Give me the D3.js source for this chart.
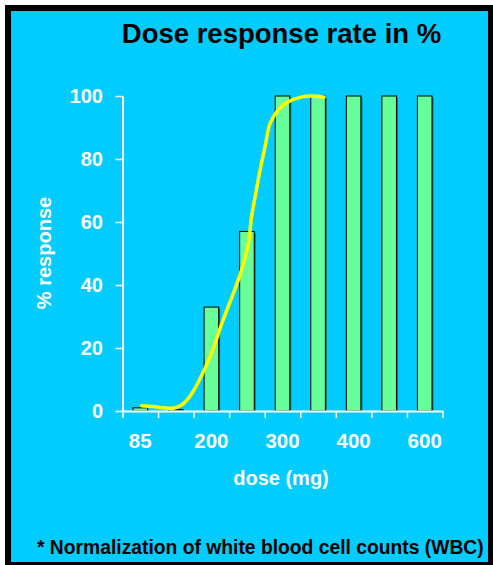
<!DOCTYPE html>
<html>
<head>
<meta charset="utf-8">
<script src="https://cdn.jsdelivr.net/npm/d3@7/dist/d3.min.js"></script>
<style>
  html, body { margin: 0; padding: 0; background: #fff; }
  svg { display: block; font-family: "Liberation Sans", Arial, sans-serif; font-weight: bold; }
</style>
</head>
<body>
<svg id="chart" width="493" height="565"></svg>
<script>
// 剂量类别 (只每隔一个标注) 与 柱高 (%)
const doses = ["85", "100", "200", "250", "300", "350", "400", "500", "600"];
const responses = [1, 0.5, 33, 57, 100, 100, 100, 100, 100];
const yTicks = [0, 20, 40, 60, 80, 100];
// 黄色拟合曲线: x 为类别序号(连续), y 为 %
const curveIdx = [0.04, 0.37, 0.65, 0.93, 1.16, 1.35, 1.45, 1.96, 2.33, 2.62, 2.85, 3.04, 3.13, 3.23, 3.37, 3.51, 3.65, 3.88, 4.12, 4.58, 4.87, 5.17];
const curveVal = [1.7, 1.4, 1.0, 0.9, 1.9, 4.0, 5.5, 17.2, 28.9, 37.4, 44.8, 53.2, 61.7, 68.0, 76.5, 83.9, 91.3, 95.6, 97.9, 99.8, 100, 99.6];

const svg = d3.select("#chart");
const COL = { BG: "#00ccff", BAR: "#66ff99", SHADOW: "#1d6f62", CURVE: "#ffff00" };

// 外框: 黑边 + 青色底
svg.append("rect").attr("x", 5).attr("y", 5).attr("width", 488).attr("height", 560).attr("fill", "#000");
svg.append("rect").attr("x", 11).attr("y", 11).attr("width", 477).attr("height", 551).attr("fill", COL.BG);

const L = 122.5, R = 442.5, T = 96, B = 411;
const x = d3.scaleBand().domain(doses).range([L, R]).padding(0);
const xi = d3.scaleLinear().domain([-0.5, doses.length - 0.5]).range([L, R]);
const y = d3.scaleLinear().domain([0, 100]).range([B, T]);
const bw = x.bandwidth() * 0.41;

// 柱 (带右下阴影)
const bars = svg.append("g");
bars.selectAll("rect.sh").data(responses).join("rect").attr("class", "sh")
  .attr("x", (d, i) => x(doses[i]) + (x.bandwidth() - bw) / 2 + 1.5).attr("y", (d) => y(d) + 1.5)
  .attr("width", bw).attr("height", (d) => B - y(d) - 1.5).attr("fill", COL.SHADOW);
bars.selectAll("rect.b").data(responses).join("rect").attr("class", "b")
  .attr("x", (d, i) => x(doses[i]) + (x.bandwidth() - bw) / 2).attr("y", (d) => y(d))
  .attr("width", bw).attr("height", (d) => B - y(d)).attr("fill", COL.BAR)
  .attr("stroke", "#000").attr("stroke-width", 1);

// y 轴
const gy = svg.append("g").attr("transform", `translate(${L},0)`)
  .call(d3.axisLeft(y).tickValues(yTicks).tickSize(7).tickPadding(12.5).tickSizeOuter(0));
gy.select(".domain").attr("stroke", "#fff").attr("stroke-width", 2);
gy.selectAll(".tick line").attr("stroke", "#fff").attr("stroke-width", 1.5);
gy.selectAll(".tick text").attr("fill", "#fff").attr("font-size", 20).attr("font-family", null).attr("font-weight", "bold");

// x 轴: 刻度在类别边界, 标签每隔一个
const gx = svg.append("g").attr("transform", `translate(0,${B})`)
  .call(d3.axisBottom(xi).tickValues(d3.range(-0.5, doses.length, 1)).tickSize(7).tickFormat("").tickSizeOuter(0));
gx.select(".domain").attr("stroke", "#fff").attr("stroke-width", 2);
gx.selectAll(".tick line").attr("stroke", "#fff").attr("stroke-width", 1.5);
const gxl = svg.append("g").attr("transform", `translate(0,${B})`)
  .call(d3.axisBottom(x).tickSize(0).tickPadding(22.5).tickFormat((d, i) => (i % 2 === 0 ? d : "")));
gxl.select(".domain").remove();
gxl.selectAll(".tick text").attr("fill", "#fff").attr("font-size", 20.5).attr("font-family", null).attr("font-weight", "bold");

// 黄色曲线
const pts = curveIdx.map((v, i) => [v, curveVal[i]]);
svg.append("path").datum(pts)
  .attr("d", d3.line().x((d) => xi(d[0])).y((d) => y(d[1])).curve(d3.curveCatmullRom.alpha(0.5)))
  .attr("fill", "none").attr("stroke", COL.CURVE).attr("stroke-width", 3.5)
  .attr("stroke-linecap", "round").attr("stroke-linejoin", "round");

// 文字
svg.append("text").attr("x", 281.5).attr("y", 42.5).attr("text-anchor", "middle")
  .attr("font-size", 27.5).attr("fill", "#000").text("Dose response rate in %");
svg.append("text").attr("x", 281).attr("y", 485).attr("text-anchor", "middle")
  .attr("font-size", 20).attr("fill", "#fff").text("dose (mg)");
svg.append("text").attr("transform", "translate(51,253) rotate(-90)").attr("text-anchor", "middle")
  .attr("font-size", 20).attr("fill", "#fff").text("% response");
svg.append("text").attr("x", 37).attr("y", 554).attr("font-size", 19.3).attr("fill", "#000")
  .text("* Normalization of white blood cell counts (WBC)");
</script>
</body>
</html>
